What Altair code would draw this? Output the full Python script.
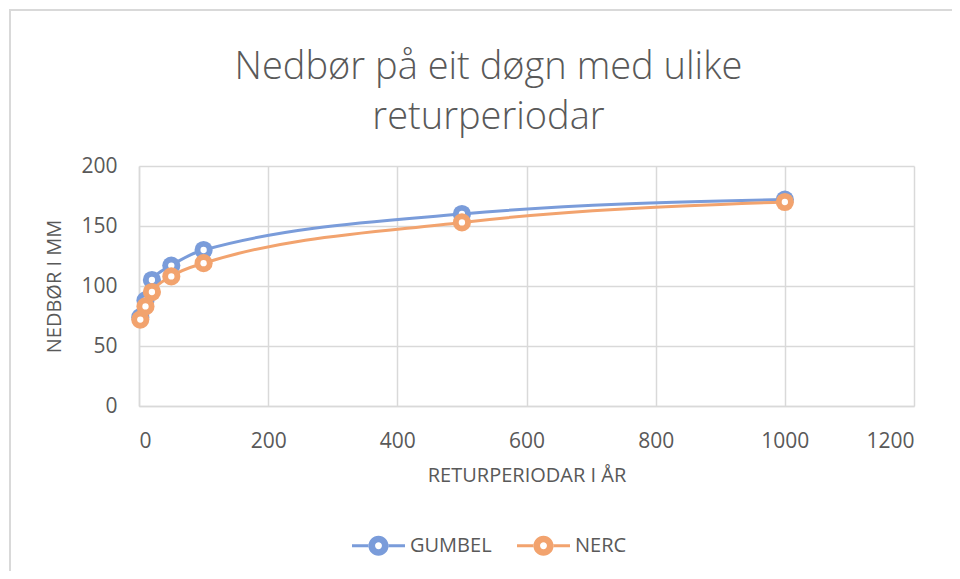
import altair as alt
import pandas as pd

# ---- data ----
return_periods = [2, 10, 20, 50, 100, 500, 1000]
gumbel = [74, 88, 105, 117, 130, 160, 172]
nerc = [72, 83, 95, 108, 119, 153, 170]
series_names = ["GUMBEL", "NERC"]
series_colors = ["#7A9CDA", "#F2A36E"]
x_ticks = [0, 200, 400, 600, 800, 1000, 1200]
y_ticks = [0, 50, 100, 150, 200]

df = pd.DataFrame({
    "T": return_periods + return_periods,
    "mm": gumbel + nerc,
    "serie": [series_names[0]] * len(gumbel) + [series_names[1]] * len(nerc),
})

TXT = "#595959"
GRID = "#D9D9D9"
FONT = "Open Sans"

color_scale = alt.Scale(domain=series_names, range=series_colors)

# legend symbol: thin line with a ring in the middle
legend_symbol = (
    "M-1,-0.06 L-0.37,-0.06 L-0.37,0.06 L-1,0.06 Z "
    "M0.37,-0.06 L1,-0.06 L1,0.06 L0.37,0.06 Z "
    "M-0.38,0 A0.38,0.38 0 1,0 0.38,0 A0.38,0.38 0 1,0 -0.38,0 Z "
    "M-0.13,0 A0.13,0.13 0 1,1 0.13,0 A0.13,0.13 0 1,1 -0.13,0 Z"
)

legend = alt.Legend(
    title=None,
    orient="none",
    legendX=213,
    legendY=353,
    direction="horizontal",
    symbolType=legend_symbol,
    symbolSize=2809,
    symbolStrokeWidth=0,
    symbolOpacity=1,
    labelFont=FONT,
    labelFontSize=20,
    labelColor=TXT,
    labelOffset=5,
    columnPadding=25,
    padding=0,
)

color_enc = alt.Color("serie:N", scale=color_scale, legend=legend)

base = alt.Chart(df).encode(
    x=alt.X(
        "T:Q",
        scale=alt.Scale(domain=[0, 1200], nice=False),
        axis=alt.Axis(values=x_ticks, title="RETURPERIODAR I ÅR", labelPadding=24,
                      titlePadding=14, format="d"),
    ),
    y=alt.Y(
        "mm:Q",
        scale=alt.Scale(domain=[0, 200], nice=False),
        axis=alt.Axis(values=y_ticks, title="NEDBØR I MM", labelPadding=22,
                      titlePadding=16, format="d"),
    ),
)

# light frame lines (top and left) of the chart area, decoration only
one_row = alt.Data(values=[{"a": 1}])
frame_top = alt.Chart(one_row).mark_rule(stroke=GRID, strokeWidth=2).encode(
    x=alt.value(-130), x2=alt.value(813), y=alt.value(-156), y2=alt.value(-156)
)
frame_left = alt.Chart(one_row).mark_rule(stroke=GRID, strokeWidth=2).encode(
    x=alt.value(-129), x2=alt.value(-129), y=alt.value(-156), y2=alt.value(405)
)

layers = [frame_top, frame_left]
for i, s in enumerate(series_names):
    sub = base.transform_filter(alt.datum.serie == s)
    line = sub.mark_line(interpolate="monotone", strokeWidth=3).encode(color=color_enc)
    dot = sub.mark_point(filled=True, shape="circle", size=330, opacity=1).encode(color=color_enc)
    hole = sub.mark_point(filled=True, shape="circle", size=40, opacity=1, color="white")
    layers += [line, dot, hole]

chart = alt.layer(*layers).properties(
    width=775,
    height=240,
    autosize=alt.AutoSizeParams(type="none"),
    padding={"left": 131, "top": 158, "right": 38, "bottom": 165},
    title=alt.Title(
        text=["Nedbør på eit døgn med ulike", "returperiodar"],
        font=FONT,
        fontSize=38,
        fontWeight=300,
        color=TXT,
        lineHeight=50,
        anchor="middle",
        dx=-38,
        offset=-128,
    ),
).configure(
    background="white"
).configure_view(
    stroke=None
).configure_axis(
    grid=True,
    gridColor=GRID,
    gridWidth=1.5,
    domainColor=GRID,
    domainWidth=1.5,
    ticks=False,
    labelFont=FONT,
    labelFontSize=21,
    labelColor=TXT,
    titleFont=FONT,
    titleFontSize=20,
    titleFontWeight="normal",
    titleColor=TXT,
)

chart.save("out.html", embed_options={"renderer": "svg", "actions": False})
